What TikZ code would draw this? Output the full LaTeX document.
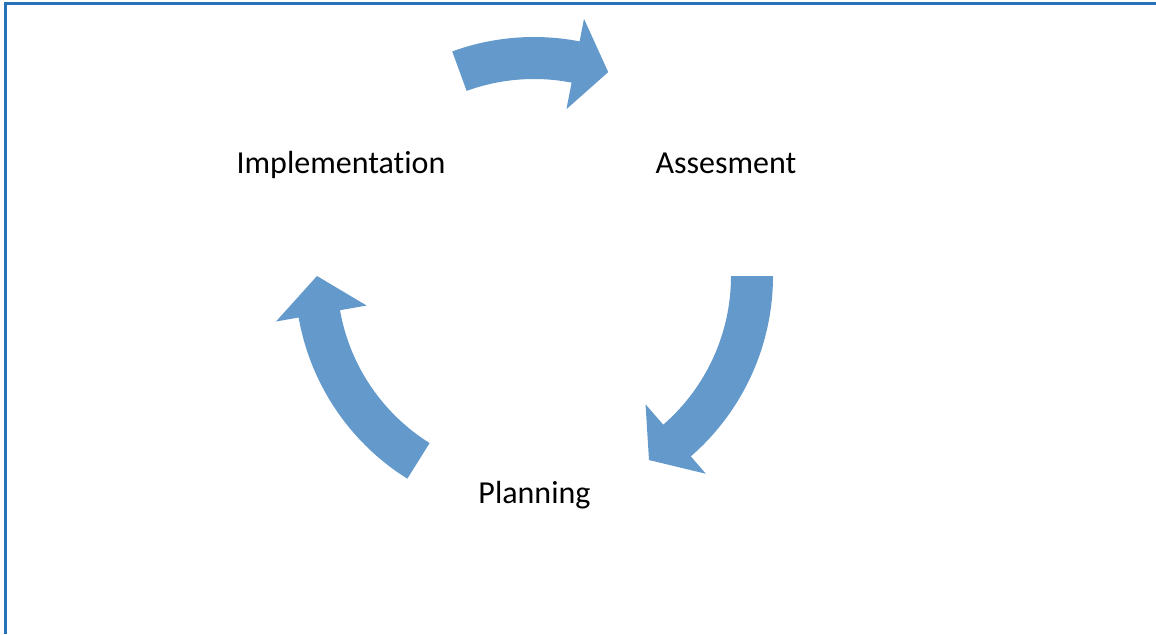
\documentclass[tikz,border=0pt]{standalone}
\usepackage{fontspec}
\setmainfont[Ligatures={NoCommon}]{Carlito}
\definecolor{framecol}{RGB}{38,113,184}
\definecolor{arrowcol}{RGB}{99,153,203}

\begin{document}
\begin{tikzpicture}[x=0.5pt,y=-0.5pt,
  lbl/.style={anchor=base,inner sep=0pt,font=\fontsize{16}{19}\selectfont},
  cyc/.style={fill=arrowcol,draw=none}]
 \useasboundingbox (0,0) rectangle (1156,634);
 % frame (top and left only)
 \draw[framecol,line width=1.5pt] (5,634) -- (5,3) -- (1156,3);

 \coordinate (c) at (534,276);
 \node[lbl] (impl) at (341,173) {Implementation};
 \node[lbl] (asse) at (726,173) {Assesment};
 \node[lbl] (plan) at (534.5,503) {Planning};

 % start angle / base of head / tip
 \foreach \a/\b/\t in {0/49/58, -110/-79/-70, 122/170/180}
  \fill[cyc,shift={(c)}] (\a:239) arc[start angle=\a,end angle=\b,radius=239]
    -- (\b:262) -- (\t:217) -- (\b:170) -- (\b:197)
    arc[start angle=\b,end angle=\a,radius=197] -- cycle;
\end{tikzpicture}
\end{document}
